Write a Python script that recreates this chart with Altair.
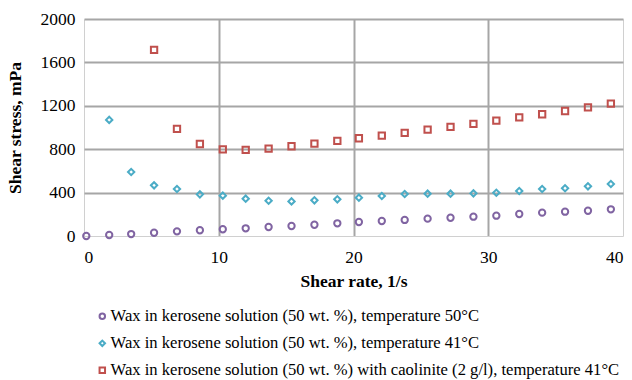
import altair as alt
import pandas as pd

series_names = [
    "Wax in kerosene solution (50 wt. %), temperature 50°C",
    "Wax in kerosene solution (50 wt. %), temperature 41°C",
    "Wax in kerosene solution (50 wt. %) with caolinite (2 g/l), temperature 41°C",
]

rate_50 = [0.17, 1.87, 3.5, 5.2, 6.9, 8.6, 10.3, 12.0, 13.7, 15.4, 17.1, 18.8,
           20.4, 22.1, 23.8, 25.5, 27.2, 28.9, 30.6, 32.3, 34.0, 35.7, 37.4, 39.1]
stress_50 = [0, 9, 18, 30, 43, 53, 62, 71, 83, 92, 104, 117,
             129, 138, 148, 160, 168, 178, 187, 203, 215, 224, 233, 246]

rate_41 = [1.87, 3.5, 5.2, 6.9, 8.6, 10.3, 12.0, 13.7, 15.4, 17.1, 18.8,
           20.4, 22.1, 23.8, 25.5, 27.2, 28.9, 30.6, 32.3, 34.0, 35.7, 37.4, 39.1]
stress_41 = [1070, 590, 467, 433, 384, 372, 344, 325, 319, 329, 338,
             353, 369, 387, 390, 390, 393, 399, 415, 433, 440, 458, 479]

rate_cao = [5.2, 6.9, 8.6, 10.3, 12.0, 13.7, 15.4, 17.1, 18.8,
            20.4, 22.1, 23.8, 25.5, 27.2, 28.9, 30.6, 32.3, 34.0, 35.7, 37.4, 39.1]
stress_cao = [1715, 987, 848, 799, 793, 805, 827, 851, 876,
              901, 925, 950, 980, 1005, 1033, 1063, 1094, 1122, 1152, 1186, 1220]

colors = ["#8064A2", "#4BACC6", "#C0504D"]
shapes = ["circle", "diamond", "square"]

rows = []
for name, xs, ys in zip(series_names, [rate_50, rate_41, rate_cao], [stress_50, stress_41, stress_cao]):
    for x, y in zip(xs, ys):
        rows.append({"series": name, "rate": x, "stress": y})
df = pd.DataFrame(rows)

FONT = "Liberation Serif"
FS = 17.5

chart = alt.Chart(df).mark_point(filled=False, strokeWidth=2, size=40, opacity=1).encode(
    x=alt.X("rate:Q", title="Shear rate, 1/s",
            scale=alt.Scale(domain=[0, 40], nice=False),
            axis=alt.Axis(values=[0, 10, 20, 30, 40], ticks=False, domain=False, format="d",
                          labelPadding=12, titlePadding=7,
                          labelFont=FONT, labelFontSize=FS, labelColor="#000",
                          titleFont=FONT, titleFontSize=FS, titleFontWeight="bold", titleColor="#000",
                          gridColor={"condition": {"test": "datum.value == 40 || datum.value == 0",
                                                   "value": "#d0d0d0"}, "value": "#a6a6a6"},
                          gridWidth={"condition": {"test": "datum.value == 40 || datum.value == 0",
                                                   "value": 1}, "value": 2})),
    y=alt.Y("stress:Q", title="Shear stress, mPa",
            scale=alt.Scale(domain=[0, 2000], nice=False),
            axis=alt.Axis(values=[0, 400, 800, 1200, 1600, 2000], ticks=False, domain=False, format="d",
                          labelPadding=9, titlePadding=16,
                          labelFont=FONT, labelFontSize=FS, labelColor="#000",
                          titleFont=FONT, titleFontSize=FS, titleFontWeight="bold", titleColor="#000",
                          gridColor={"condition": {"test": "datum.value == 0",
                                                   "value": "#d0d0d0"}, "value": "#a6a6a6"},
                          gridWidth={"condition": {"test": "datum.value == 0",
                                                   "value": 1}, "value": 2})),
    color=alt.Color("series:N", scale=alt.Scale(domain=series_names, range=colors),
                    legend=alt.Legend(title=None, orient="none", legendX=10, legendY=289,
                                      direction="vertical", padding=0, rowPadding=10,
                                      symbolSize=30, symbolStrokeWidth=2,
                                      labelFont=FONT, labelFontSize=16.6, labelColor="#000",
                                      labelOffset=0, labelLimit=600)),
    shape=alt.Shape("series:N", scale=alt.Scale(domain=series_names, range=shapes)),
).properties(
    width=539, height=217,
    background="white",
    autosize=alt.AutoSizeParams(type="none"),
    padding={"left": 84, "top": 19, "right": 9, "bottom": 144},
).configure_view(
    stroke=None
)

chart.save("out.html", embed_options={"renderer": "svg", "actions": False})
